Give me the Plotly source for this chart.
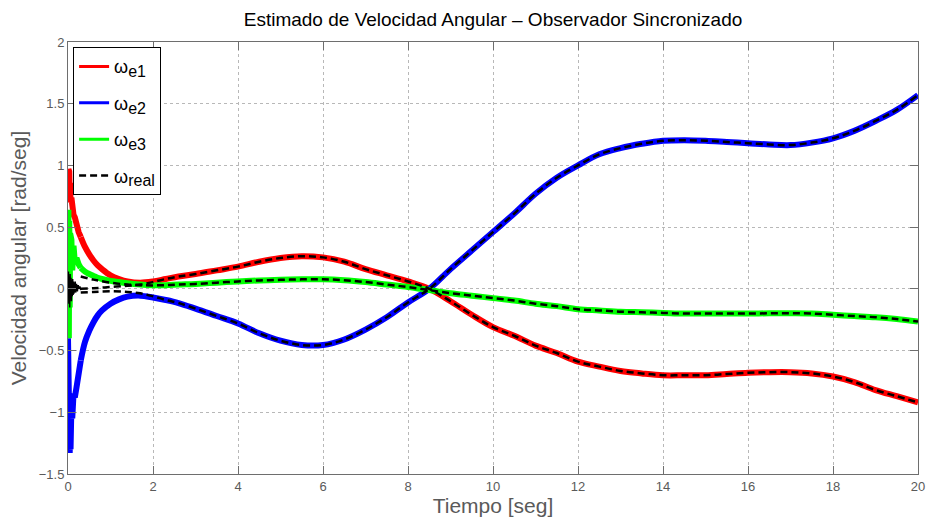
import plotly.graph_objects as go

# Time base for the observer estimates [s]
t_est = [0.00, 0.01, 0.02, 0.03, 0.04, 0.05, 0.06, 0.08, 0.10, 0.13, 0.16, 0.20,
         0.25, 0.30, 0.40, 0.50, 0.60, 0.70, 0.80, 1.00, 1.20, 1.40, 1.70, 2.00,
         2.30, 2.60, 3.00, 3.50, 4.00, 4.50, 5.00, 5.50, 6.00, 6.50, 7.00, 7.50,
         8.00, 8.50, 9.00, 9.50, 10.0, 10.5, 11.0, 11.5, 12.0, 12.5, 13.0, 13.5,
         14.0, 14.5, 15.0, 15.5, 16.0, 16.5, 17.0, 17.5, 18.0, 18.5, 19.0, 19.5, 20.0]

# Estimated angular velocities [rad/s]
w_e1 = [0.70, 0.97, 0.80, 0.95, 0.72, 0.86, 0.70, 0.74, 0.62, 0.60, 0.58, 0.50,
        0.46, 0.42, 0.34, 0.28, 0.23, 0.19, 0.16, 0.11, 0.08, 0.06, 0.05, 0.06,
        0.08, 0.10, 0.12, 0.15, 0.18, 0.22, 0.25, 0.265, 0.255, 0.22, 0.16, 0.11,
        0.06, 0.00, -0.10, -0.21, -0.31, -0.38, -0.46, -0.52, -0.59, -0.63, -0.665, -0.685,
        -0.70, -0.70, -0.70, -0.69, -0.68, -0.675, -0.675, -0.685, -0.71, -0.755, -0.82, -0.87, -0.92]

w_e2 = [-0.40, -0.90, -1.25, -1.05, -1.33, -1.15, -1.30, -0.95, -1.05, -0.85, -0.88, -0.80,
        -0.68, -0.58, -0.43, -0.34, -0.27, -0.215, -0.175, -0.12, -0.085, -0.063, -0.055, -0.07,
        -0.09, -0.115, -0.16, -0.22, -0.28, -0.36, -0.42, -0.455, -0.455, -0.41, -0.33, -0.23,
        -0.11, 0.00, 0.16, 0.31, 0.46, 0.61, 0.77, 0.90, 1.00, 1.09, 1.14, 1.175,
        1.20, 1.205, 1.20, 1.19, 1.18, 1.17, 1.165, 1.185, 1.22, 1.28, 1.36, 1.45, 1.57]

w_e3 = [0.20, 0.64, -0.40, 0.55, -0.15, 0.45, 0.05, 0.40, 0.15, 0.35, 0.22, 0.25,
        0.20, 0.17, 0.14, 0.12, 0.105, 0.09, 0.08, 0.065, 0.055, 0.045, 0.035, 0.03,
        0.03, 0.035, 0.04, 0.05, 0.06, 0.068, 0.073, 0.077, 0.078, 0.07, 0.055, 0.035,
        0.015, -0.01, -0.035, -0.055, -0.075, -0.095, -0.12, -0.14, -0.165, -0.175, -0.185, -0.19,
        -0.195, -0.20, -0.20, -0.20, -0.20, -0.198, -0.198, -0.20, -0.21, -0.22, -0.23, -0.245, -0.265]

# Measured (real) angular velocities, after the initial transient [rad/s]
t_real = [0.30, 0.60, 1.00, 1.40, 1.70, 2.00, 2.30, 2.60, 3.00, 3.50, 4.00, 4.50,
          5.00, 5.50, 6.00, 6.50, 7.00, 7.50, 8.00, 8.50, 9.00, 9.50, 10.0, 10.5,
          11.0, 11.5, 12.0, 12.5, 13.0, 13.5, 14.0, 14.5, 15.0, 15.5, 16.0, 16.5,
          17.0, 17.5, 18.0, 18.5, 19.0, 19.5, 20.0]

w_real1 = [0.00, 0.005, 0.015, 0.025, 0.035, 0.055, 0.08, 0.10, 0.12, 0.15, 0.18, 0.22,
           0.25, 0.265, 0.255, 0.22, 0.16, 0.11, 0.06, 0.00, -0.10, -0.21, -0.31, -0.38,
           -0.46, -0.52, -0.59, -0.63, -0.665, -0.685, -0.70, -0.70, -0.70, -0.69, -0.68, -0.675,
           -0.675, -0.685, -0.71, -0.755, -0.82, -0.87, -0.92]

w_real2 = [-0.03, -0.025, -0.02, -0.025, -0.036, -0.06, -0.09, -0.115, -0.16, -0.22, -0.28, -0.36,
           -0.42, -0.455, -0.455, -0.41, -0.33, -0.23, -0.11, 0.00, 0.16, 0.31, 0.46, 0.61,
           0.77, 0.90, 1.00, 1.09, 1.14, 1.175, 1.20, 1.205, 1.20, 1.19, 1.18, 1.17,
           1.165, 1.185, 1.22, 1.28, 1.36, 1.45, 1.57]

w_real3 = [0.10, 0.075, 0.05, 0.035, 0.03, 0.028, 0.03, 0.035, 0.04, 0.05, 0.06, 0.068,
           0.073, 0.077, 0.078, 0.07, 0.055, 0.035, 0.015, -0.01, -0.035, -0.055, -0.075, -0.095,
           -0.12, -0.14, -0.165, -0.175, -0.185, -0.19, -0.195, -0.20, -0.20, -0.20, -0.20, -0.198,
           -0.198, -0.20, -0.21, -0.22, -0.23, -0.245, -0.265]

# Noisy start of the measured signal
t_real0 = [0.00, 0.01, 0.02, 0.03, 0.04, 0.05, 0.06, 0.07, 0.08, 0.09, 0.10, 0.11,
           0.12, 0.13, 0.14, 0.15, 0.16, 0.17, 0.18, 0.20, 0.22, 0.24, 0.26, 0.28, 0.30]
w_real0 = [0.00, 0.14, -0.12, 0.10, -0.15, 0.12, -0.08, 0.09, -0.10, 0.07, -0.06, 0.08,
           -0.05, 0.06, -0.04, 0.05, -0.03, 0.06, -0.03, 0.04, -0.02, 0.03, 0.00, 0.02, -0.01]

x_ticks = list(range(0, 21, 2))
y_ticks = [-1.5, -1, -0.5, 0, 0.5, 1, 1.5, 2]

LABEL_GRAY = "#5a5a5a"
AXIS_GRAY = "#6e6e6e"
FONT = "Liberation Sans, Arial, sans-serif"

# the transient (t <= 0.3 s) is drawn point to point, the rest as a smooth curve
N_TRANSIENT = t_est.index(0.30) + 1


def omega(sub):
    return f"ω<sub><span style='font-size:16px'>{sub}</span></sub>"


fig = go.Figure()

estimates = [
    (w_e1, "#ff0000", omega("e1"), "e1"),
    (w_e2, "#0000ff", omega("e2"), "e2"),
    (w_e3, "#00ff00", omega("e3"), "e3"),
]
for values, color, name, group in estimates:
    fig.add_trace(go.Scatter(
        x=t_est[:N_TRANSIENT], y=values[:N_TRANSIENT], mode="lines",
        legendgroup=group, showlegend=False, line=dict(color=color, width=6),
    ))
    fig.add_trace(go.Scatter(
        x=t_est[N_TRANSIENT - 1:], y=values[N_TRANSIENT - 1:], mode="lines",
        legendgroup=group, showlegend=False,
        line=dict(color=color, width=6, shape="spline", smoothing=1.0),
    ))
    # legend key drawn with a thinner stroke
    fig.add_trace(go.Scatter(
        x=[None], y=[None], mode="lines", name=name, legendgroup=group,
        line=dict(color=color, width=3),
    ))

fig.add_trace(go.Scatter(
    x=t_real0, y=w_real0, mode="lines", showlegend=False, legendgroup="real",
    line=dict(color="black", width=1.5),
))
for i, values in enumerate([w_real1, w_real2, w_real3]):
    fig.add_trace(go.Scatter(
        x=t_real, y=values, mode="lines", name=omega("real"),
        legendgroup="real", showlegend=(i == 0),
        line=dict(color="black", width=2.5, dash="7px,4px", shape="spline", smoothing=1.0),
    ))

axis_common = dict(
    showline=True, linecolor=AXIS_GRAY, linewidth=1, mirror="ticks",
    ticks="inside", ticklen=8, tickcolor=AXIS_GRAY, tickwidth=1,
    showgrid=True, gridcolor="#b8b8b8", griddash="dot", gridwidth=1,
    zeroline=False, automargin=False,
    tickfont=dict(family=FONT, size=13, color=LABEL_GRAY),
)

fig.update_layout(
    width=928, height=517,
    margin=dict(l=68, r=10, t=42, b=43, autoexpand=False),
    paper_bgcolor="white", plot_bgcolor="white",
    font=dict(family=FONT),
    title=dict(
        text="Estimado de Velocidad Angular – Observador Sincronizado",
        x=(68 + 918) / 2 / 928, xanchor="center", y=0.962, yanchor="middle",
        font=dict(size=19, color="black"),
    ),
    xaxis=dict(
        range=[0, 20], tickvals=x_ticks,
        title=dict(text="Tiempo [seg]", font=dict(size=21, color=LABEL_GRAY), standoff=4),
        **axis_common,
    ),
    yaxis=dict(
        range=[-1.5, 2], tickvals=y_ticks,
        title=dict(text="Velocidad angular [rad/seg]", font=dict(size=21, color=LABEL_GRAY), standoff=6),
        **axis_common,
    ),
    legend=dict(
        x=0.006, y=0.988, xanchor="left", yanchor="top",
        bgcolor="white", bordercolor="black", borderwidth=1,
        font=dict(size=18, color="black"),
        traceorder="grouped", tracegroupgap=10,
    ),
    showlegend=True,
)

fig.write_html("out.html")
